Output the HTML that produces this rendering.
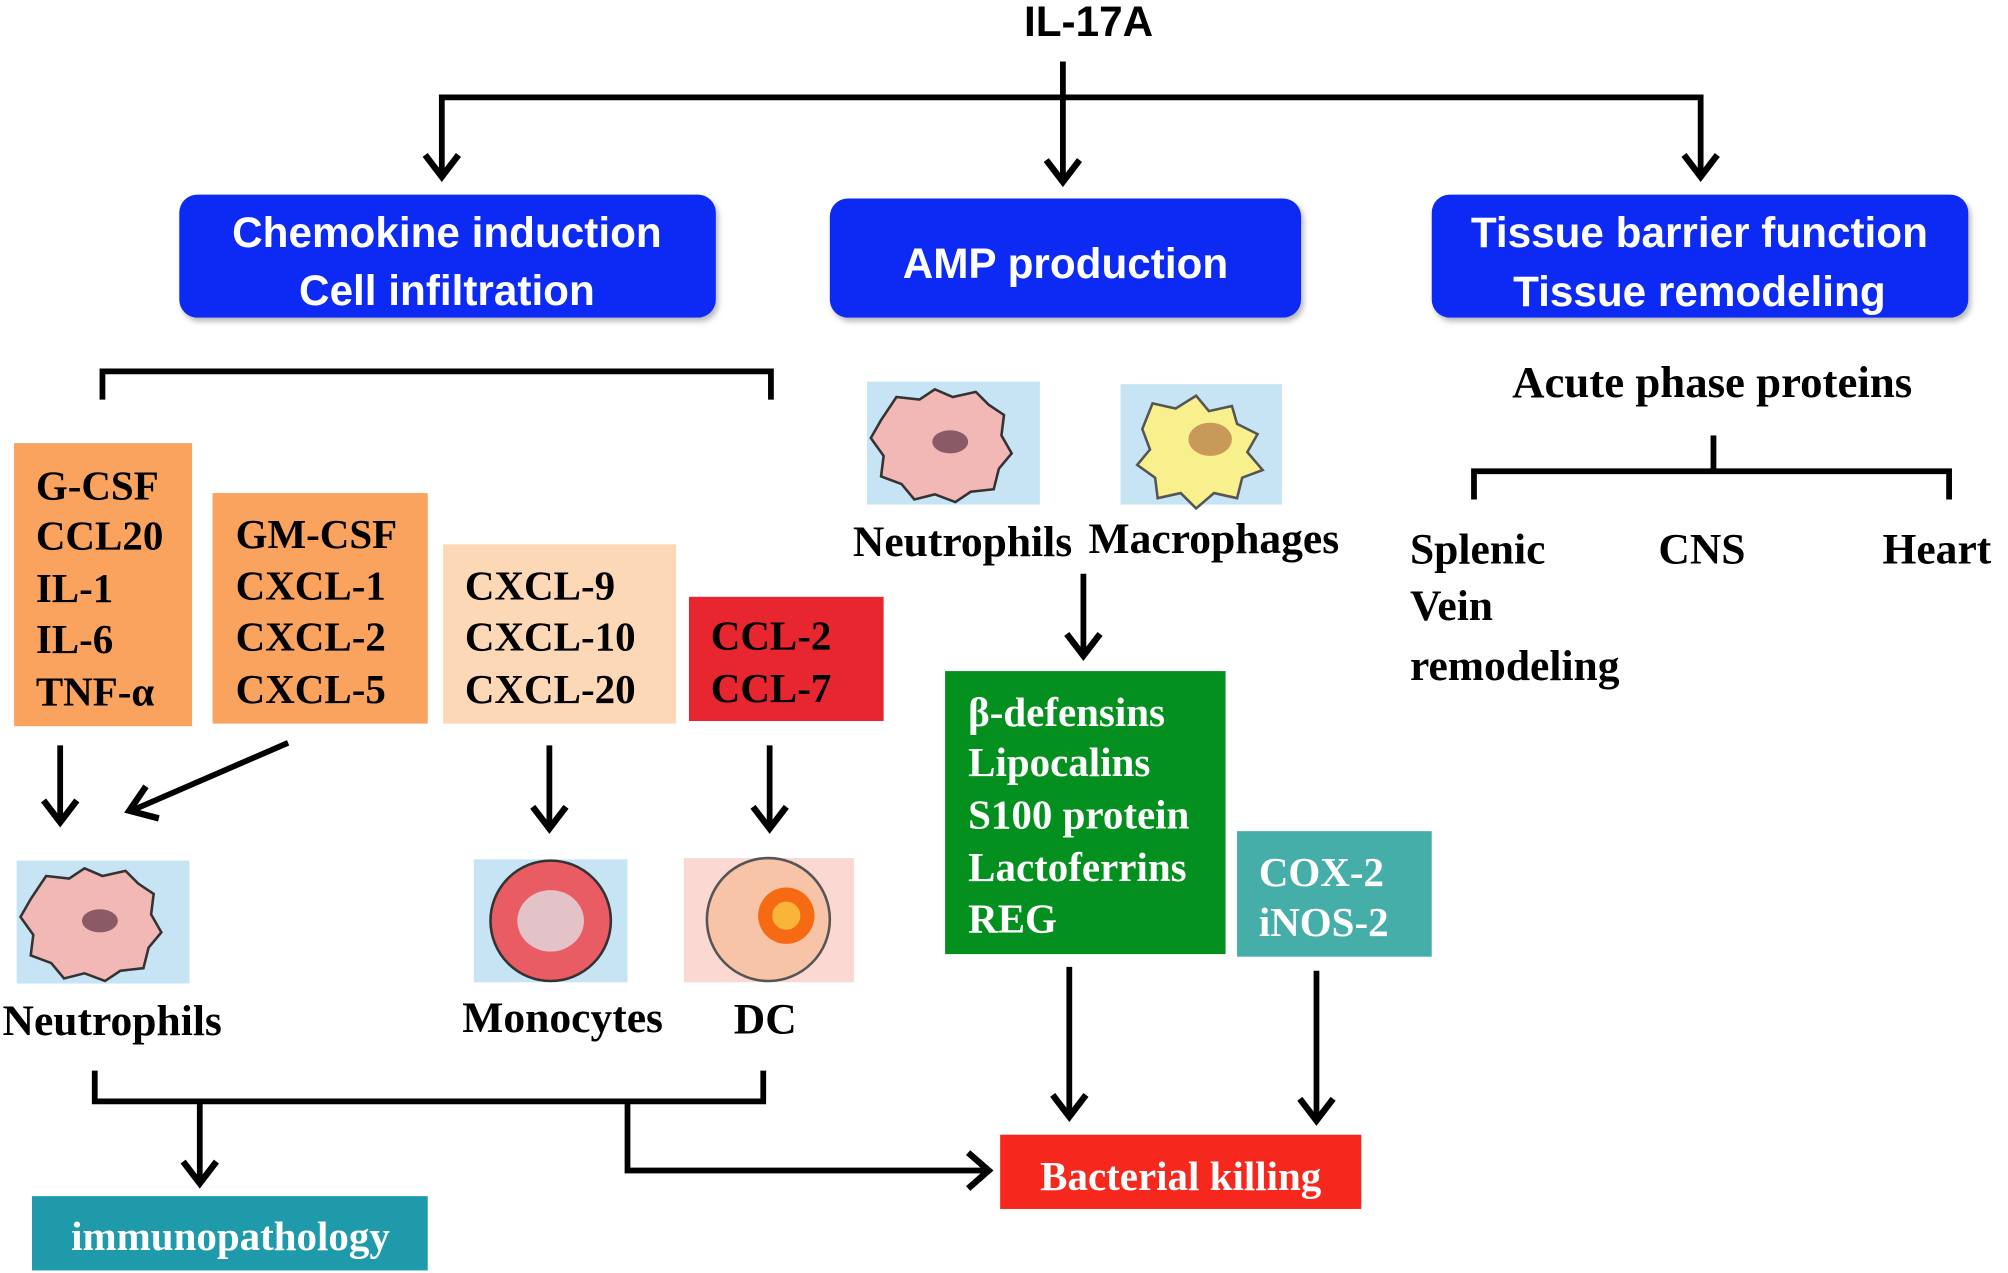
<!DOCTYPE html>
<html><head><meta charset="utf-8"><style>
html,body{margin:0;padding:0;background:#fff}
svg{display:block}
.s{font-family:"Liberation Sans",sans-serif;font-weight:bold;fill:#fff;font-size:33px}
.r{font-family:"Liberation Serif",serif;font-weight:bold;font-size:32px;fill:#000}
</style></head><body>
<svg width="2008" height="1273" viewBox="0 0 1568 994" preserveAspectRatio="none" xmlns="http://www.w3.org/2000/svg">
<defs>
<filter id="sh"><feDropShadow dx="2" dy="3" stdDeviation="2" flood-color="#888" flood-opacity="0.6"/></filter>
<g id="ah"><polyline points="-13,-17 0,0 13,-17" fill="none" stroke="#000" stroke-width="5"/></g>
</defs>
<g stroke="#000" stroke-width="4.5" fill="none">
<line x1="830" y1="48" x2="830" y2="140"/>
<polyline points="345,138 345,76 1328,76 1328,138"/>
<polyline points="80,312 80,290 602,290 602,312"/>
<polyline points="1151,390 1151,368 1522,368 1522,390"/>
<line x1="1338" y1="340" x2="1338" y2="368"/>
<line x1="47" y1="582" x2="47" y2="640"/>
<line x1="225" y1="580" x2="105" y2="632"/>
<line x1="429" y1="582" x2="429" y2="645"/>
<line x1="601" y1="582" x2="601" y2="645"/>
<line x1="846" y1="448" x2="846" y2="510"/>
<polyline points="74,836 74,860 596,860 596,836"/>
<line x1="156" y1="860" x2="156" y2="922"/>
<polyline points="490,860 490,914 768,914"/>
<line x1="835" y1="755" x2="835" y2="870"/>
<line x1="1028" y1="758" x2="1028" y2="873"/>
</g>
<use href="#ah" x="345" y="138"/><use href="#ah" x="830" y="142"/><use href="#ah" x="1328" y="138"/>
<use href="#ah" x="47" y="642"/><use href="#ah" x="429" y="647"/><use href="#ah" x="601" y="647"/>
<use href="#ah" x="846" y="512"/><use href="#ah" x="156" y="924"/><use href="#ah" x="835" y="872"/><use href="#ah" x="1028" y="875"/>
<polyline points="114,614 101,633 124,639" fill="none" stroke="#000" stroke-width="5"/>
<polyline points="756,900 772,914 756,928" fill="none" stroke="#000" stroke-width="5"/>
<text x="850" y="28" text-anchor="middle" style="font-family:'Liberation Sans',sans-serif;font-weight:bold;font-size:33px">IL-17A</text>
<g filter="url(#sh)" fill="#0a2cf5">
<rect x="140" y="152" width="419" height="96" rx="14"/>
<rect x="648" y="155" width="368" height="93" rx="14"/>
<rect x="1118" y="152" width="419" height="96" rx="14"/>
</g>
<text class="s" x="349" y="193" text-anchor="middle">Chemokine  induction</text>
<text class="s" x="349" y="238" text-anchor="middle">Cell infiltration</text>
<text class="s" x="832" y="217" text-anchor="middle">AMP production</text>
<text class="s" x="1327" y="193" text-anchor="middle">Tissue barrier function</text>
<text class="s" x="1327" y="239" text-anchor="middle">Tissue remodeling</text>
<text class="r" x="1337" y="310" text-anchor="middle" style="font-size:35px">Acute phase proteins</text>
<g class="r" style="font-size:34px">
<text x="1101" y="440">Splenic</text>
<text x="1295" y="440">CNS</text>
<text x="1470" y="440">Heart</text>
<text x="1101" y="484">Vein</text>
<text x="1101" y="531">remodeling</text></g>
<rect x="11" y="346" width="139" height="221" fill="#f9a35f"/>
<rect x="166" y="385" width="168" height="180" fill="#f9a35f"/>
<rect x="346" y="425" width="182" height="140" fill="#fdd8b7"/>
<rect x="538" y="466" width="152" height="97" fill="#e8262f"/>
<g class="r"><text x="28" y="390">G-CSF</text><text x="28" y="429">CCL20</text><text x="28" y="470">IL-1</text><text x="28" y="510">IL-6</text><text x="28" y="551">TNF-α</text>
<text x="184" y="428">GM-CSF</text><text x="184" y="468">CXCL-1</text><text x="184" y="508">CXCL-2</text><text x="184" y="549">CXCL-5</text>
<text x="363" y="468">CXCL-9</text><text x="363" y="508">CXCL-10</text><text x="363" y="549">CXCL-20</text>
<text x="555" y="507">CCL-2</text><text x="555" y="548">CCL-7</text></g>
<rect x="738" y="524" width="219" height="221" fill="#04901f"/>
<g class="r" style="fill:#fff"><text x="756" y="567">β-defensins</text><text x="756" y="606">Lipocalins</text><text x="756" y="647">S100 protein</text><text x="756" y="688">Lactoferrins</text><text x="756" y="728">REG</text></g>
<rect x="966" y="649" width="152" height="98" fill="#45aea9"/>
<g class="r" style="fill:#fff"><text x="983" y="692">COX-2</text><text x="983" y="731">iNOS-2</text></g>
<rect x="781" y="886" width="282" height="58" fill="#f6281e"/>
<text class="r" x="922" y="929" text-anchor="middle" style="fill:#fff">Bacterial killing</text>
<rect x="25" y="934" width="309" height="58" fill="#1e9aaa"/>
<text class="r" x="180" y="976" text-anchor="middle" style="fill:#fff">immunopathology</text>
<g>
<rect x="677" y="298" width="135" height="96" fill="#c7e4f5"/>
<path d="M700,310 l18,2 12,-8 14,6 18,-4 10,10 12,8 -2,16 8,14 -10,12 -4,16 -18,2 -12,8 -16,-6 -16,4 -10,-12 -16,-6 2,-16 -10,-14 8,-14 z" fill="#f2b8b6" stroke="#333" stroke-width="2"/>
<ellipse cx="742" cy="345" rx="14" ry="9" fill="#8a5a66"/>
<rect x="875" y="300" width="126" height="94" fill="#c7e4f5"/>
<path d="M900,315 l18,4 16,-10 10,12 18,-4 4,14 16,8 -8,14 12,14 -16,6 -4,16 -18,-4 -14,12 -12,-12 -18,4 -2,-16 -14,-10 10,-12 -6,-16 z" fill="#f8f08c" stroke="#555" stroke-width="2"/>
<ellipse cx="945" cy="343" rx="17" ry="13" fill="#c89a5a"/>
<rect x="13" y="672" width="135" height="96" fill="#c7e4f5"/>
<path d="M36,684 l18,2 12,-8 14,6 18,-4 10,10 12,8 -2,16 8,14 -10,12 -4,16 -18,2 -12,8 -16,-6 -16,4 -10,-12 -16,-6 2,-16 -10,-14 8,-14 z" fill="#f2b8b6" stroke="#333" stroke-width="2"/>
<ellipse cx="78" cy="719" rx="14" ry="9" fill="#8a5a66"/>
<rect x="370" y="671" width="120" height="96" fill="#c7e4f5"/>
<circle cx="430" cy="719" r="47" fill="#ea5c63" stroke="#333" stroke-width="2"/>
<ellipse cx="430" cy="719" rx="26" ry="24" fill="#e4c3c8"/>
<rect x="534" y="670" width="133" height="97" fill="#fbd9d2"/>
<circle cx="600" cy="718" r="48" fill="#f8c4a8" stroke="#555" stroke-width="2"/>
<circle cx="614" cy="715" r="22" fill="#f56a12"/>
<circle cx="614" cy="715" r="11" fill="#fbb43a"/>
</g>
<g class="r" style="font-size:34px"><text x="666" y="434">Neutrophils</text><text x="850" y="432">Macrophages</text>
<text x="2" y="808">Neutrophils</text><text x="361" y="806">Monocytes</text><text x="573" y="807">DC</text></g>
</svg>
</body></html>
